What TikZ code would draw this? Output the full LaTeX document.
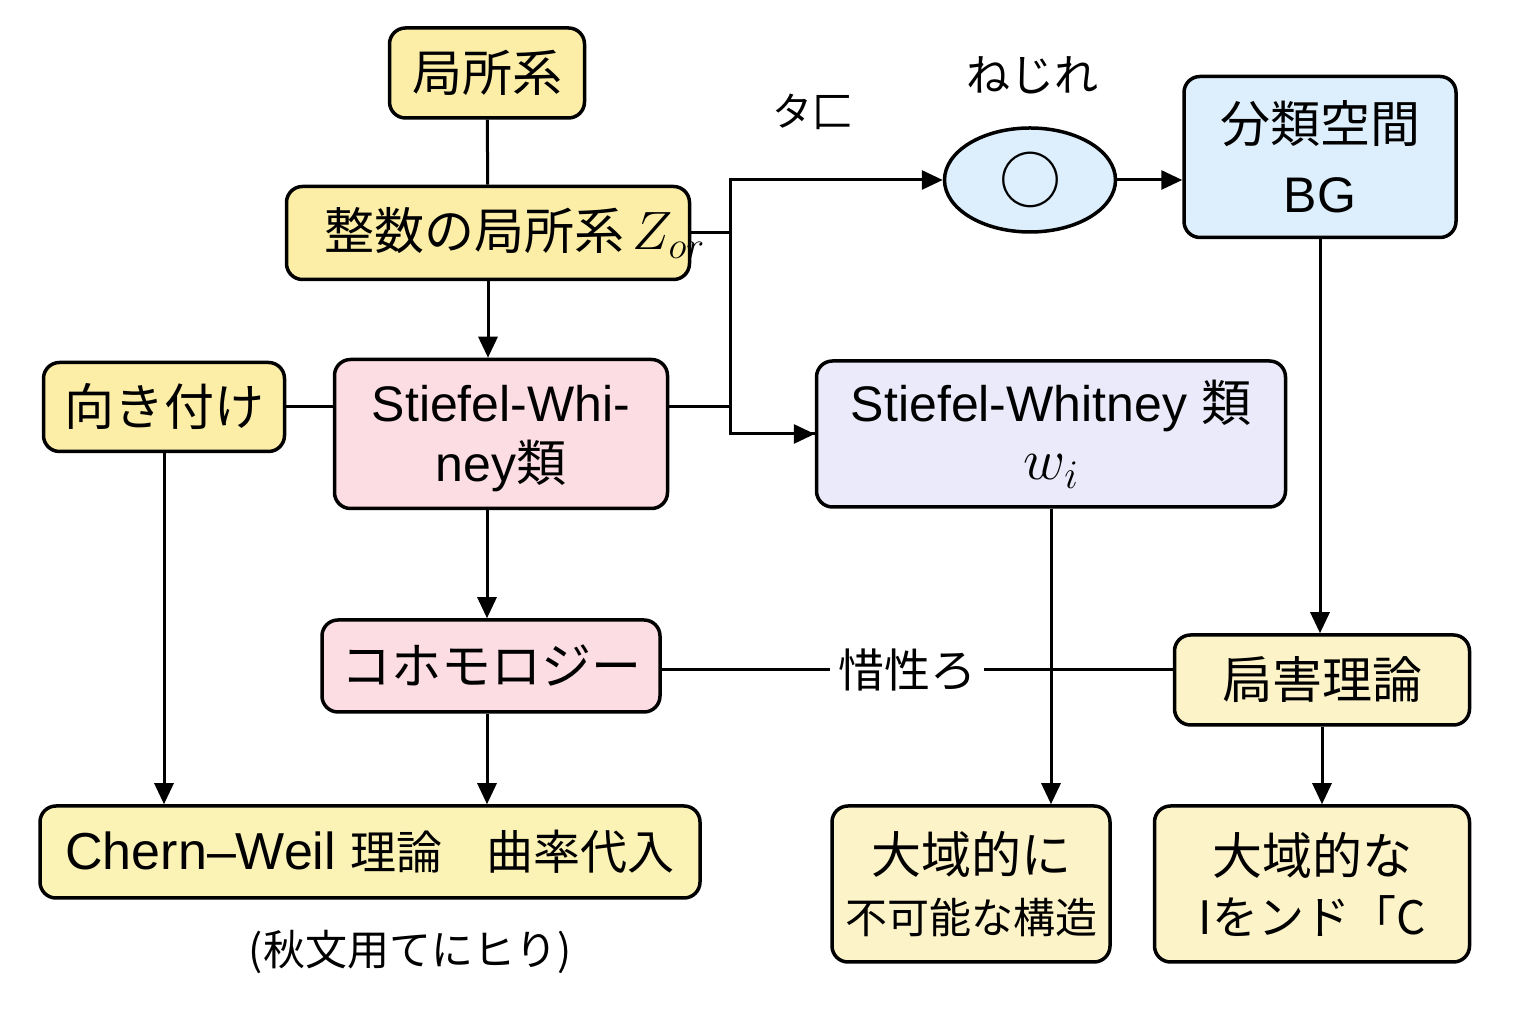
\documentclass[tikz,border=0pt]{standalone}
\usepackage{fix-cm}
\usepackage{fontspec}
\setmainfont{Liberation Sans}
\newfontfamily\jp{Noto Sans CJK JP}
\usetikzlibrary{positioning,shapes.geometric,arrows.meta}

\begin{document}
\begin{tikzpicture}[x=1pt,y=1pt,
  box/.style={draw=black,line width=3.5pt,rounded corners=16pt,align=center,inner sep=0pt,
    font=\fontsize{50}{60}\selectfont},
  link/.style={draw=black,line width=3pt},
  arr/.style={link,-{Triangle[length=21pt,width=19pt]}},
  tag/.style={font=\jp\fontsize{46}{52}\selectfont,inner sep=8pt}]
\definecolor{yellowA}{RGB}{252,238,166}
\definecolor{yellowB}{RGB}{251,242,182}
\definecolor{yellowC}{RGB}{253,243,200}
\definecolor{pinkFill}{RGB}{252,221,228}
\definecolor{lavFill}{RGB}{234,234,250}
\definecolor{blueFill}{RGB}{221,239,252}
\path[use as bounding box,fill=white] (0,0) rectangle (1536,1024);

% boxes
\node[box,fill=yellowA,minimum width=195pt,minimum height=90pt] (local) at (487,951) {\jp 局所系};
\node[box,fill=yellowA,minimum width=403pt,minimum height=93pt] (zint) at (488,791)
  {\makebox[340pt][l]{\hspace*{6pt}{\jp 整数の局所系}\,{\fontsize{54}{60}\selectfont$Z_{or}$}}};
\node[box,fill=yellowA,minimum width=241pt,minimum height=89pt] (orient) at (164,617) {\jp 向き付け};
\node[box,fill=pinkFill,minimum width=333pt,minimum height=149pt] (swpink) at (501,590) {\rule{0pt}{46pt}Stiefel-Whi-\\ney{\jp 類}};
\node[box,fill=lavFill,minimum width=469pt,minimum height=146pt] (swlav) at (1051,590)
  {Stiefel-Whitney {\jp 類}\\[-2pt]{\fontsize{58}{60}\selectfont$w_i$}};
\node[draw=black,line width=3.5pt,ellipse,fill=blueFill,minimum width=171pt,minimum height=104pt,inner sep=0pt,
  font=\jp\fontsize{62}{62}\selectfont] (twist) at (1030,844) {○};
\node[box,fill=blueFill,minimum width=272pt,minimum height=161pt] (bg) at (1320,867) {{\jp 分類空間}\\[10pt]BG};
\node[box,fill=pinkFill,minimum width=338pt,minimum height=92pt] (cohom) at (491,358) {\jp コホモロジー};
\node[box,fill=yellowC,minimum width=295pt,minimum height=90pt] (obstr) at (1322,344) {\jp 扃害理論};
\node[box,fill=yellowB,minimum width=660pt,minimum height=92pt] (chern) at (370,172)
  {\fontsize{52}{60}\selectfont Chern--Weil {\jp\fontsize{46}{60}\selectfont 理論}\hspace{44pt}{\jp\fontsize{47}{60}\selectfont 曲率代入}};
\node[box,fill=yellowC,minimum width=278pt,minimum height=156pt] (glob1) at (971,140)
  {\jp 大域的に\\\jp\fontsize{42}{60}\selectfont 不可能な構造};
\node[box,fill=yellowC,minimum width=315pt,minimum height=156pt] (glob2) at (1312,140)
  {\jp 大域的な\\\jp\fontsize{46}{60}\selectfont Iをンド「C};

% free labels
\node[tag,font=\jp\fontsize{44}{50}\selectfont] (nejire) at (1032,949) {ねじれ};
\node[tag,font=\jp\fontsize{40}{50}\selectfont] (tab) at (812,912) {タ匚};
\node[tag] (noble) at (907,354) {惜性ろ};
\node[tag,font=\jp\fontsize{42}{50}\selectfont] (remark) at (410,72) {(秋文用てにヒり)};

% junctions
\coordinate (split) at (730,791);
\coordinate (tee) at (730,617);
\coordinate (stem) at (487,0);

% connectors
\draw[link] (local) -- (zint);
\draw[arr] (zint.south) -- (zint.south |- swpink.north);
\draw[link] (zint.east |- split) -- (split);
\draw[arr] (split) |- (twist.west);
\draw[link] (split) |- (swlav.west);
\draw[arr] (tee) |- (swlav.west);
\draw[link] (swpink.east |- tee) -- (tee);
\draw[link] (orient) -- (orient -| swpink.west);
\draw[arr] (orient.south) -- (orient.south |- chern.north);
\draw[arr] (stem |- swpink.south) -- (stem |- cohom.north);
\draw[arr] (stem |- cohom.south) -- (stem |- chern.north);
\draw[link] (cohom.east |- noble) -- (noble) -- (noble -| obstr.west);
\draw[arr] (twist.east) -- (twist.east -| bg.west);
\draw[arr] (bg.south) -- (bg.south |- obstr.north);
\draw[arr] (obstr.south) -- (obstr.south |- glob2.north);
\draw[arr] (swlav.south) -- (swlav.south |- glob1.north);
\end{tikzpicture}
\end{document}
